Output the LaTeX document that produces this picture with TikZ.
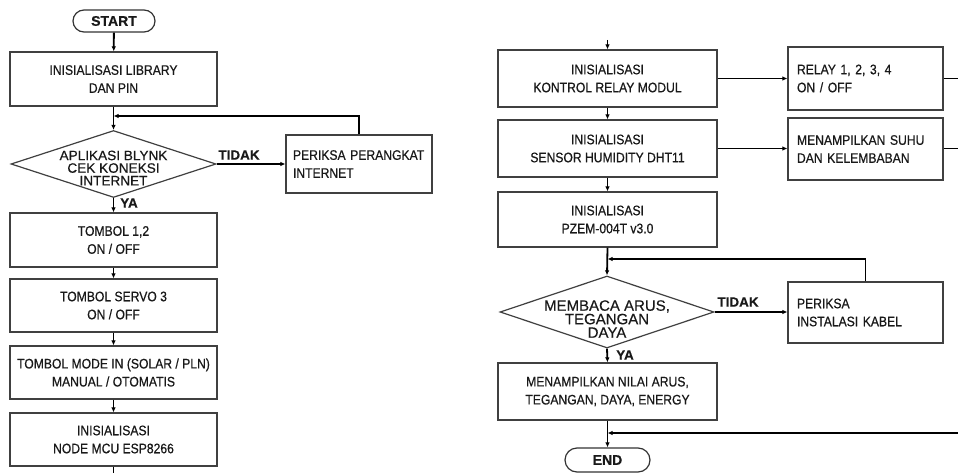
\documentclass[tikz,border=0pt]{standalone}
\usepackage{fontspec}
\setmainfont{Liberation Sans}[FakeStretch=0.88,FakeBold=0.6]
\newfontfamily\widefont{Liberation Sans}[FakeBold=0.4]
\usetikzlibrary{shapes.geometric,arrows.meta}
\begin{document}
\begin{tikzpicture}[x=1pt,y=-1pt,
  box/.style={draw=black!75,line width=1.2pt,minimum width=207pt,minimum height=54pt,inner sep=0pt,align=center,
    font=\fontsize{13.8}{18}\selectfont,text=black!90},
  rbox/.style={box,minimum width=219pt,minimum height=57pt},
  sidebox/.style={draw=black!75,line width=1.2pt,inner xsep=9pt,inner ysep=0pt,text width=137pt,align=left,
    font=\fontsize{13.8}{18}\selectfont,text=black!90},
  term/.style={draw=black!80,line width=1.2pt,rounded corners=11pt,inner sep=0pt,
    font=\widefont\bfseries\fontsize{14}{16}\selectfont,text=black!90},
  dia/.style={diamond,draw=black!75,line width=1.2pt,inner sep=0pt},
  dtext/.style={align=center,inner sep=0pt,text=black!90},
  lbl/.style={inner sep=0pt,font=\widefont\bfseries\fontsize{13.5}{15}\selectfont,text=black!90},
  conn/.style={line width=1.8pt,black},
  arr/.style={conn,-{Latex[length=5pt,width=4.5pt]}}
]
\useasboundingbox (0,0) rectangle (958,473);
\fill[white] (0,0) rectangle (958,473);

% ---------- left column ----------
\node[term,minimum width=82pt,minimum height=22pt] (start) at (114,21) {START};
\node[box] (b1) at (113.5,79) {INISIALISASI LIBRARY\\DAN PIN};
\node[dia,minimum width=205pt,minimum height=67pt] (d1) at (113.5,164) {};
\node[dtext,font=\widefont\fontsize{13.6}{12.6}\selectfont] (d1t) at (113.5,168) {APLIKASI BLYNK\\CEK KONEKSI\\INTERNET};
\node[sidebox,inner xsep=7pt,text width=132pt,minimum height=58pt] (p1) at (359,164) {PERIKSA PERANGKAT\\INTERNET};
\node[box] (t1) at (113.5,240) {TOMBOL 1,2\\ON / OFF};
\node[box,minimum height=53pt] (t2) at (113.5,305.5) {TOMBOL SERVO 3\\ON / OFF};
\node[box,minimum height=53pt] (t3) at (113.5,372.5) {TOMBOL MODE IN (SOLAR / PLN)\\MANUAL / OTOMATIS};
\node[box,minimum height=53pt] (t4) at (113.5,439.5) {INISIALISASI\\NODE MCU ESP8266};
\node[lbl] (tidak1) at (239,155) {TIDAK};
\node[lbl] (ya1) at (129,203) {YA};

\coordinate (j1) at (113.5,116);
\coordinate (lbot) at (113.5,473);

\draw[arr] (start) -- (b1);
\draw[arr] (b1) -- (d1.north);
\draw[arr] (p1.north) |- (j1);
\draw[arr] (d1.east) -- (p1.west);
\draw[arr] (d1.south) -- (t1.north);
\draw[arr] (t1) -- (t2);
\draw[arr] (t2) -- (t3);
\draw[arr] (t3) -- (t4);
\draw[conn] (t4.south) -- (lbot);

% ---------- right column ----------
\coordinate (rtop) at (607.5,40);
\node[rbox] (r1) at (607.5,78.5) {INISIALISASI\\KONTROL RELAY MODUL};
\node[rbox] (r2) at (607.5,148.5) {INISIALISASI\\SENSOR HUMIDITY DHT11};
\node[rbox,minimum height=55pt] (r3) at (607.5,219.5) {INISIALISASI\\PZEM-004T v3.0};
\node[dia,minimum width=214pt,minimum height=72pt] (d2) at (607,312) {};
\node[dtext,font=\widefont\fontsize{15}{13.5}\selectfont] (d2t) at (607,319) {MEMBACA ARUS,\\TEGANGAN\\DAYA};
\node[rbox] (r4) at (607.5,391.5) {MENAMPILKAN NILAI ARUS,\\TEGANGAN, DAYA, ENERGY};
\node[term,minimum width=85pt,minimum height=24pt,rounded corners=12pt] (end) at (607.5,460) {END};

\node[sidebox,minimum height=63pt] (s1) at (865.5,78.5) {RELAY 1, 2, 3, 4\\ON / OFF};
\node[sidebox,minimum height=62pt] (s2) at (865.5,149) {MENAMPILKAN SUHU\\DAN KELEMBABAN};
\node[sidebox,minimum height=61pt] (s3) at (865.5,312.5) {PERIKSA\\INSTALASI KABEL};
\node[lbl] (tidak2) at (738,302) {TIDAK};
\node[lbl] (ya2) at (625,355) {YA};

\coordinate (e1) at (958,78.5);
\coordinate (e2) at (958,148.5);
\coordinate (e3) at (958,433);
\coordinate (j2) at (607.5,259);
\coordinate (j3) at (607.5,433);

\draw[arr] (rtop) -- (r1.north);
\draw[arr] (r1.east) -- (s1.west);
\draw[conn] (s1.east) -- (e1);
\draw[arr] (r1) -- (r2);
\draw[arr] (r2.east) -- (s2.west |- r2.east);
\draw[conn] (s2.east |- e2) -- (e2);
\draw[arr] (r2) -- (r3);
\draw[arr] (r3.south) -- (d2.north);
\draw[arr] (s3.north) |- (j2);
\draw[arr] (d2.east) -- (s3.west |- d2.east);
\draw[arr] (d2.south) -- (r4.north);
\draw[arr] (r4.south) -- (end.north);
\draw[arr] (e3) -- (j3);
\end{tikzpicture}
\end{document}
